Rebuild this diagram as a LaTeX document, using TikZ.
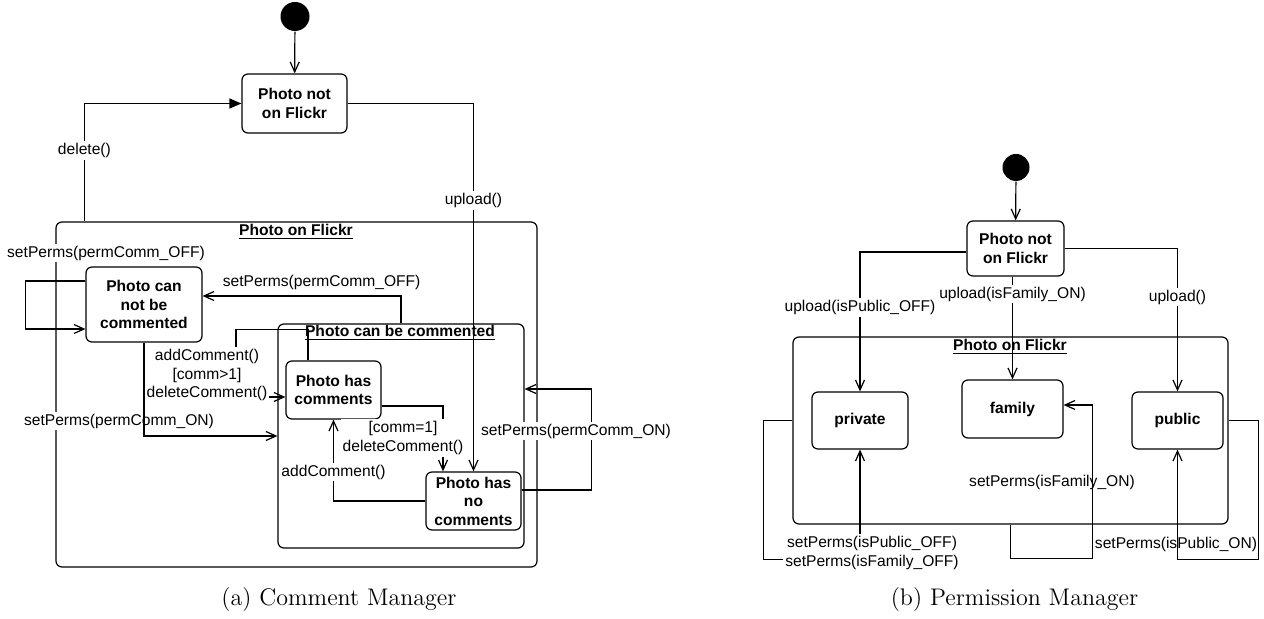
\documentclass[tikz,border=0pt]{standalone}
\usepackage{fontspec}
\newfontfamily\diafont{Liberation Sans}
\usetikzlibrary{arrows.meta,calc}
\newcommand{\lblsize}{\fontsize{7.8pt}{9.25pt}\selectfont}

\begin{document}
\begin{tikzpicture}[
  x=0.5pt, y=-0.5pt, line width=0.6pt,
  st/.style={draw, rounded corners=3pt, font=\diafont\lblsize\bfseries, align=center, inner sep=0pt},
  region/.style={draw, rounded corners=3pt, inner sep=0pt},
  rtitle/.style={font=\diafont\lblsize\bfseries, inner sep=0pt},
  lbl/.style={font=\diafont\lblsize, align=center, inner sep=1pt},
  wlbl/.style={lbl, fill=white},
  tr/.style={-{Straight Barb[length=5pt,width=4.5pt]}},
  trfill/.style={-{Triangle[length=6pt,width=5pt]}},
  init/.style={circle, fill=black, minimum size=14.5pt, inner sep=0pt},
  subcap/.style={font=\fontsize{12pt}{14pt}\selectfont},
]
\useasboundingbox (0,0) rectangle (1264,619);

% ====== (a) Comment Manager ======
\node[init] (init1) at (295,16.5) {};
\node[st, minimum width=52.5pt, minimum height=29.5pt] (noton1) at (294.5,103.5) {Photo not\\on Flickr};
\node[region, minimum width=240.5pt, minimum height=172.5pt] (onflickr1) at (296.5,394.5) {};
\node[rtitle] (t1) at (296,232) {\underline{Photo on Flickr}};
\node[st, minimum width=58pt, minimum height=37.5pt] (cannot) at (144,304.5) {Photo can\\not be\\commented};
\node[region, minimum width=123pt, minimum height=112pt] (canbe) at (401,436) {};
\node[rtitle] (t2) at (400,333) {\underline{Photo can be commented}};
\node[st, minimum width=47.5pt, minimum height=29pt] (hascom) at (333.5,390) {Photo has\\comments};
\node[st, minimum width=47.5pt, minimum height=29pt] (nocom) at (473.5,501) {Photo has\\no\\comments};

\draw[tr] (init1) -- (noton1);
\draw[trfill] ($(onflickr1.north west)+(29,0)$) |- node[wlbl, pos=0.3]{delete()} (noton1.west);
\draw[tr] (noton1.east) -| node[wlbl, pos=0.632]{upload()} (nocom.north);

\node[wlbl] (lcom1) at (106,253) {setPerms(permComm\_OFF)};
\draw[tr] ([yshift=11.75pt]cannot.west) -- ++(-60,0) |- ([yshift=-12.25pt]cannot.west);
\draw[tr] (canbe.north) |- node[lbl, pos=0.7, yshift=7pt]{setPerms(permComm\_OFF)} ([yshift=4.25pt]cannot.east);

\draw[tr] ([xshift=-12.75pt]hascom.north) -- ++(0,-31) -- ++(-72,0) |- ([yshift=-3.5pt]hascom.west);
\node[wlbl] (lcom2) at (207,375) {addComment()\\{[comm>1]}\\deleteComment()};

\node[wlbl] (lcom3) at (119,421) {setPerms(permComm\_ON)};
\draw[tr] (cannot.south) |- (canbe.west);

\draw[tr] ([yshift=-8pt]hascom.east) -| ([xshift=-15.25pt]nocom.north);
\node[wlbl] (lcom4) at (403,438) {{[comm=1]}\\deleteComment()};
\draw[tr] (nocom.west) -| node[wlbl, pos=0.677]{addComment()} (hascom.south);

\draw[tr] ([yshift=5.5pt]nocom.east) -- ++(70,0) |- ([yshift=23.5pt]canbe.east);
\node[wlbl] (lcom5) at (576,431) {setPerms(permComm\_ON)};

\node[subcap] (capa) at (339,600) {(a) Comment Manager};

% ====== (b) Permission Manager ======
\node[init, minimum size=13.5pt] (init2) at (1016,167.5) {};
\node[st, minimum width=48.5pt, minimum height=27.5pt] (noton2) at (1015.5,248.5) {Photo not\\on Flickr};
\node[region, minimum width=217.5pt, minimum height=93.5pt] (onflickr2) at (1010.5,430.5) {};
\node[rtitle] (t3) at (1010,347) {\underline{Photo on Flickr}};
\node[st, minimum width=48pt, minimum height=28.5pt] (private) at (860,420.5) {private};
\node[st, minimum width=50.5pt, minimum height=29pt] (family) at (1012.5,409) {family};
\node[st, minimum width=45.5pt, minimum height=28.5pt] (public) at (1177.5,420.5) {public};

\draw[tr] (init2) -- (noton2);
\draw[tr] ([yshift=-1.75pt]noton2.west) -| node[wlbl, pos=0.7]{upload(isPublic\_OFF)} (private.north);
\draw[tr] (noton2.south -| family.north) -- node[wlbl, pos=0.17]{upload(isFamily\_ON)} (family.north);
\draw[tr] (noton2.east) -| node[wlbl, pos=0.67]{upload()} (public.north);

\draw[tr] (private.west -| onflickr2.west) -- ++(-29,0) |- ($(private.south)+(0,110)$) -- (private.south);
\node[wlbl] (lperm1) at (872,553) {setPerms(isPublic\_OFF)\\setPerms(isFamily\_OFF)};
\draw[tr] (public.east -| onflickr2.east) -- ++(30,0) |- ($(public.south)+(0,110)$) -- (public.south);
\node[lbl] (lperm2) at (1176,544) {setPerms(isPublic\_ON)};
\draw[tr] (onflickr2.south) -- ++(0,34) -| ($(family.east)+(29,-4)$) -- ([yshift=2pt]family.east);
\node[lbl] (lperm3) at (1052,482) {setPerms(isFamily\_ON)};

\node[subcap] (capb) at (1014.5,600) {(b) Permission Manager};

\end{tikzpicture}
\end{document}
